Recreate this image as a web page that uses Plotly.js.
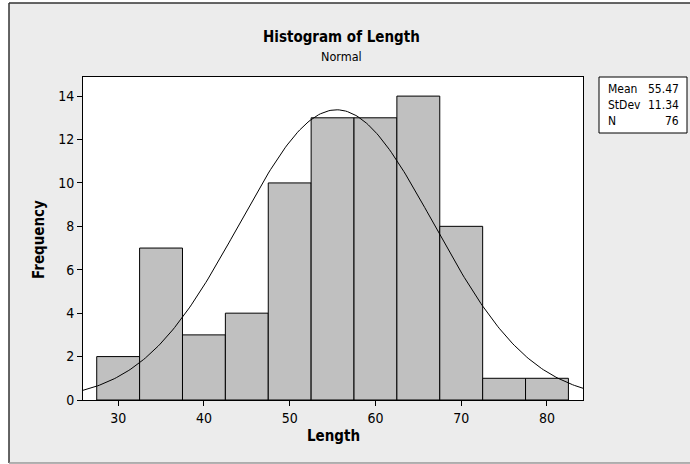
<!DOCTYPE html>
<html><head><meta charset="utf-8">
<script src="https://cdn.plot.ly/plotly-3.0.1.min.js"></script>
<style>html,body{margin:0;padding:0;background:#fff}#c{width:690px;height:464px}</style>
</head><body><div id="c"></div>
<script>
const binCenters = [30, 35, 40, 45, 50, 55, 60, 65, 70, 75, 80];
const frequencies = [2, 7, 3, 4, 10, 13, 13, 14, 8, 1, 1];
const binWidth = 5;
const xTicks = [30, 40, 50, 60, 70, 80];
const yTicks = [0, 2, 4, 6, 8, 10, 12, 14];
const statLabels = ["Mean", "StDev", "N"];
const statValues = ["55.47", "11.34", "76"];
const fitMean = 55.47, fitSd = 11.34, fitN = 76;

const xr = [25.9, 84.2], yr = [0, 14.88];
const cx = [], cy = [];
for (let i = 0; i <= 240; i++) {
  const x = xr[0] + (xr[1] - xr[0]) * i / 240;
  const z = (x - fitMean) / fitSd;
  cx.push(x);
  cy.push(fitN * binWidth * Math.exp(-0.5 * z * z) / (fitSd * Math.sqrt(2 * Math.PI)));
}
const F = "'DejaVu Sans Condensed', 'DejaVu Sans', sans-serif";
const L = 83, R = 583, T = 77, B = 400;
const px = v => (v - L) / (R - L), py = v => (B - v) / (B - T);

const traces = [
  {type: 'bar', x: binCenters, y: frequencies, width: binWidth,
   marker: {color: '#c0c0c0', line: {color: '#000', width: 1}}, hoverinfo: 'x+y'},
  {type: 'scatter', mode: 'lines', x: cx, y: cy, line: {color: '#000', width: 1}, hoverinfo: 'skip'}
];
const pa = (t, x, y, o) => Object.assign({text: t, x: px(x), y: py(y), xref: 'paper', yref: 'paper', showarrow: false, xanchor: 'center', yanchor: 'middle'}, o);
const anns = [
  pa('<b>Histogram of Length</b>', 341, 37, {font: {family: F, size: 15, color: '#000'}}),
  pa('Normal', 341, 57, {font: {family: F, size: 12.5, color: '#000'}}),
  pa('<b>Length</b>', 333, 436, {font: {family: F, size: 15, color: '#000'}}),
  pa('<b>Frequency</b>', 39, 240, {textangle: -90, font: {family: F, size: 15, color: '#000'}})
];
const rowY = [89, 105, 121];
statLabels.forEach((s, i) => {
  anns.push(pa(s, 606, rowY[i], {xanchor: 'left', font: {family: F, size: 12, color: '#000'}}));
  anns.push(pa(statValues[i], 681, rowY[i], {xanchor: 'right', font: {family: F, size: 12, color: '#000'}}));
});
const shapes = [
  {type: 'rect', xref: 'paper', yref: 'paper', x0: px(9), x1: px(692), y0: py(463), y1: py(3), fillcolor: '#ececec', line: {width: 0}, layer: 'below'},
  {type: 'line', xref: 'paper', yref: 'paper', x0: px(9), x1: px(9), y0: py(463), y1: py(3), line: {color: '#333', width: 1.5}, layer: 'below'},
  {type: 'line', xref: 'paper', yref: 'paper', x0: px(9), x1: px(692), y0: py(3), y1: py(3), line: {color: '#333', width: 1.5}, layer: 'below'},
  {type: 'line', xref: 'paper', yref: 'paper', x0: px(9), x1: px(692), y0: py(463), y1: py(463), line: {color: '#999', width: 1.5}, layer: 'below'},
  {type: 'rect', xref: 'paper', yref: 'paper', x0: 0, x1: 1, y0: 0, y1: 1, fillcolor: '#ffffff', line: {width: 0}, layer: 'below'},
  {type: 'rect', xref: 'paper', yref: 'paper', x0: px(599), x1: px(687), y0: py(133), y1: py(77), fillcolor: '#ffffff', line: {color: '#000', width: 1}}
];
const ax = {ticks: 'outside', ticklen: 5, tickcolor: '#000', showline: true, linecolor: '#000', linewidth: 1,
  mirror: true, showgrid: false, zeroline: false, tickfont: {family: F, size: 14, color: '#000'}};
const layout = {
  width: 690, height: 464,
  margin: {l: L, r: 690 - R, t: T, b: 464 - B, pad: 0},
  paper_bgcolor: '#ffffff', plot_bgcolor: 'rgba(0,0,0,0)',
  showlegend: false, bargap: 0,
  font: {family: F, size: 12, color: '#000'},
  xaxis: Object.assign({range: xr, tickvals: xTicks}, ax),
  yaxis: Object.assign({range: yr, tickvals: yTicks}, ax),
  annotations: anns, shapes: shapes
};
Plotly.newPlot('c', traces, layout, {displayModeBar: false, staticPlot: true});
</script></body></html>
